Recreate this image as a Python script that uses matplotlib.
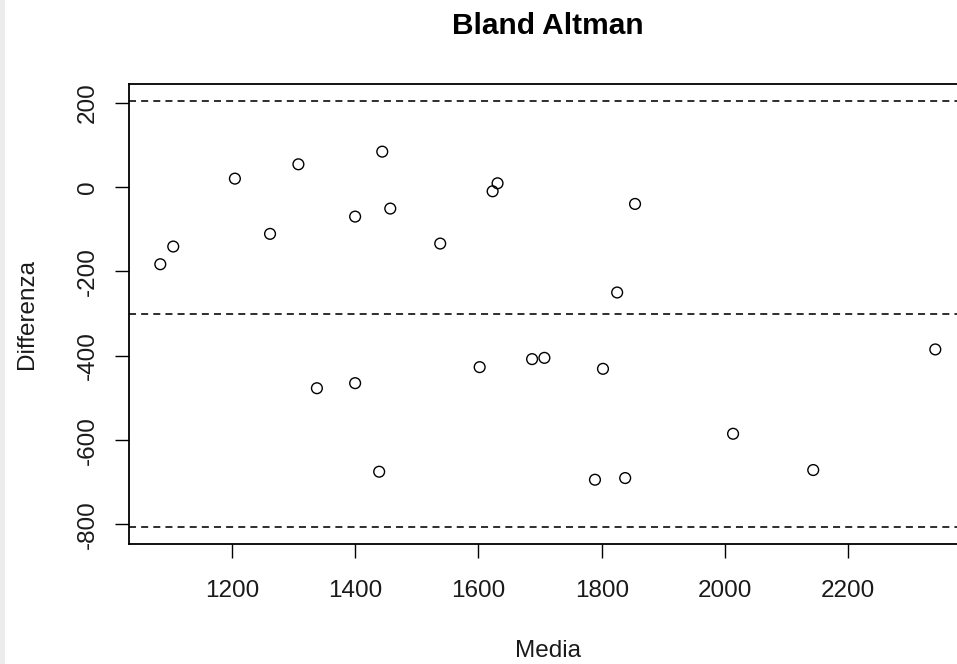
import matplotlib
matplotlib.use("Agg")
import matplotlib.pyplot as plt
from matplotlib.patches import Rectangle

plt.rcParams['font.family'] = ['Liberation Sans', 'DejaVu Sans']

# Bland-Altman data
media = [1084, 1105, 1205, 1262, 1308, 1400, 1444, 1457, 1538, 1623, 1631,
         1602, 1687, 1707, 1854, 1825, 1802, 2341, 1338, 1400, 1439, 1789,
         1838, 2013, 2143]
differenza = [-183, -141, 20, -111, 54, -70, 84, -51, -134, -10, 9,
              -427, -408, -405, -40, -250, -431, -385, -477, -465, -675, -694,
              -690, -585, -671]

mean_diff = -301
lower_lim = -806
upper_lim = 204

x_ticks = [1200, 1400, 1600, 1800, 2000, 2200]
y_ticks = [-800, -600, -400, -200, 0, 200]

fig = plt.figure(figsize=(9.57, 6.64), dpi=100)
fig.patch.set_facecolor("white")
fig.patches.append(Rectangle((0, 0), 5 / 957, 1, transform=fig.transFigure,
                             facecolor="#ececec", edgecolor="none", zorder=-1))

# axes box runs slightly past the right edge (reference is cropped there)
ax = fig.add_axes([129.3 / 957, 1 - 544 / 664, 837 / 957, 460 / 664])

ax.scatter(media, differenza, s=60, facecolors="none", edgecolors="black",
           linewidths=1.0, zorder=3)

for v in [upper_lim, mean_diff, lower_lim]:
    ax.axhline(v, color="black", linewidth=1.15, linestyle=(0, (4.4, 3.2)))

# R style 4% padding
xr = max(media) - min(media)
ax.set_xlim(min(media) - 0.04 * xr, max(media) + 0.04 * xr)
yr = upper_lim - lower_lim
ax.set_ylim(lower_lim - 0.04 * yr, upper_lim + 0.04 * yr)

ax.set_xticks(x_ticks)
ax.set_yticks(y_ticks)
ax.set_yticklabels([str(t) for t in y_ticks], rotation=90, va="center")
ax.tick_params(direction="out", length=10, width=1.0, labelsize=17.5,
               color="black", labelcolor="#1a1a1a")
ax.tick_params(axis="x", pad=16)
ax.tick_params(axis="y", pad=12)

for sp in ax.spines.values():
    sp.set_linewidth(1.3)
    sp.set_color("black")

ax.set_title("Bland Altman", fontsize=21.5, fontweight="bold", pad=36)
ax.set_xlabel("Media", fontsize=17.5, labelpad=27, color="#1a1a1a")
ax.set_ylabel("Differenza", fontsize=17.5, labelpad=28, color="#1a1a1a")

fig.savefig("out.png", dpi=100)
